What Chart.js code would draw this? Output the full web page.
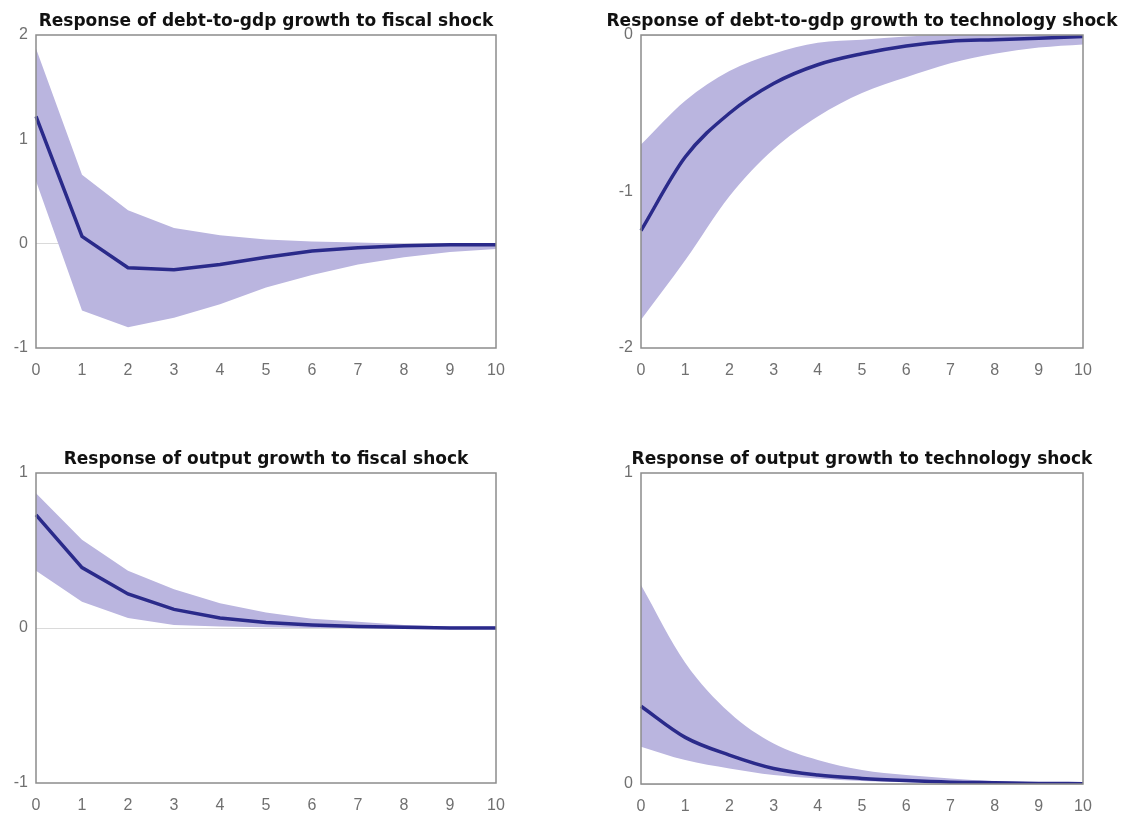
<!DOCTYPE html>
<html>
<head>
<meta charset="utf-8">
<script src="https://cdn.jsdelivr.net/npm/chart.js@4/dist/chart.umd.min.js"></script>
<style>
  body { margin: 0; background: #fff; width: 1142px; height: 821px; position: relative; overflow: hidden; }
  .panel { position: absolute; }
</style>
</head>
<body>
<div class="panel" style="left:0px;top:0px;width:532px;height:385px"><canvas id="c1"></canvas></div>
<div class="panel" style="left:605px;top:0px;width:514px;height:385px"><canvas id="c2"></canvas></div>
<div class="panel" style="left:0px;top:438px;width:532px;height:382px"><canvas id="c3"></canvas></div>
<div class="panel" style="left:605px;top:438px;width:514px;height:383px"><canvas id="c4"></canvas></div>
<script>
const periods = [0, 1, 2, 3, 4, 5, 6, 7, 8, 9, 10];

// debt-to-gdp growth, fiscal shock
const debtFiscalMedian = [1.22, 0.07, -0.23, -0.25, -0.2, -0.13, -0.07, -0.04, -0.02, -0.01, -0.01];
const debtFiscalUpper = [1.87, 0.66, 0.32, 0.15, 0.08, 0.04, 0.02, 0.01, 0.0, 0.0, 0.0];
const debtFiscalLower = [0.6, -0.64, -0.8, -0.71, -0.58, -0.42, -0.3, -0.2, -0.13, -0.08, -0.05];

// debt-to-gdp growth, technology shock
const debtTechMedian = [-1.25, -0.78, -0.5, -0.31, -0.19, -0.12, -0.07, -0.04, -0.03, -0.02, -0.01];
const debtTechUpper = [-0.7, -0.42, -0.23, -0.12, -0.05, -0.03, -0.01, 0.0, 0.0, 0.0, 0.0];
const debtTechLower = [-1.82, -1.44, -1.03, -0.73, -0.52, -0.37, -0.27, -0.18, -0.12, -0.08, -0.06];

// output growth, fiscal shock
const outFiscalMedian = [0.73, 0.39, 0.22, 0.12, 0.064, 0.036, 0.02, 0.01, 0.005, 0.0, 0.0];
const outFiscalUpper = [0.87, 0.57, 0.37, 0.25, 0.16, 0.1, 0.06, 0.04, 0.02, 0.01, 0.01];
const outFiscalLower = [0.37, 0.17, 0.065, 0.02, 0.01, 0.005, 0.0, 0.0, 0.0, 0.0, 0.0];

// output growth, technology shock
const outTechMedian = [0.25, 0.15, 0.093, 0.05, 0.029, 0.018, 0.011, 0.006, 0.004, 0.002, 0.001];
const outTechUpper = [0.64, 0.39, 0.23, 0.13, 0.077, 0.045, 0.029, 0.018, 0.01, 0.006, 0.004];
const outTechLower = [0.12, 0.077, 0.05, 0.029, 0.018, 0.01, 0.006, 0.003, 0.002, 0.001, 0.0];

const BAND = '#bab5df';
const LINE = '#2a2a8a';
const AXIS = '#8c8c8c';
const TICK = '#707070';
const TICK_FONT = { family: 'Arial, "Liberation Sans", sans-serif', size: 16 };

// grey frame round the plot area
const frame = {
  id: 'frame',
  afterDatasetsDraw(chart) {
    const a = chart.chartArea;
    const ctx = chart.ctx;
    ctx.save();
    ctx.strokeStyle = AXIS;
    ctx.lineWidth = 1.5;
    ctx.strokeRect(a.left, a.top, a.right - a.left, a.bottom - a.top);
    ctx.restore();
  }
};

function makeChart(id, title, median, upper, lower, yMin, yMax, smooth) {
  const mode = smooth ? 'monotone' : 'default';
  new Chart(document.getElementById(id), {
    type: 'line',
    data: {
      labels: periods,
      datasets: [
        { data: upper, borderWidth: 0, pointRadius: 0, backgroundColor: BAND, fill: '+1', order: 2, cubicInterpolationMode: mode },
        { data: lower, borderWidth: 0, pointRadius: 0, backgroundColor: BAND, fill: false, order: 2, cubicInterpolationMode: mode },
        { data: median, borderColor: LINE, borderWidth: 3.5, pointRadius: 0, fill: false, order: 1, cubicInterpolationMode: mode },
      ],
    },
    options: {
      responsive: true,
      maintainAspectRatio: false,
      animation: false,
      layout: { padding: 0 },
      plugins: {
        legend: { display: false },
        tooltip: { enabled: false },
        title: {
          display: true,
          text: title,
          color: '#111',
          font: { family: '"DejaVu Sans", sans-serif', size: 17, weight: 'bold' },
          padding: { top: 11, bottom: 3.6 },
        },
      },
      scales: {
        x: {
          grid: { display: false, drawTicks: false },
          border: { display: false },
          ticks: { color: TICK, padding: 13, maxRotation: 0, font: TICK_FONT },
          afterFit: (s) => { s.height = 37; },
        },
        y: {
          min: yMin,
          max: yMax,
          grid: {
            drawTicks: false,
            color: (c) => (c.tick && c.tick.value === 0 ? '#dadada' : 'rgba(0,0,0,0)'),
          },
          border: { display: false },
          ticks: { stepSize: 1, color: TICK, padding: 8, font: TICK_FONT },
          afterFit: (s) => { s.width = 36; },
        },
        yRight: {
          position: 'right',
          display: true,
          grid: { display: false },
          border: { display: false },
          ticks: { display: false },
          afterFit: (s) => { s.width = 36; },
        },
      },
    },
    plugins: [frame],
  });
}

makeChart('c1', 'Response of debt-to-gdp growth to fiscal shock', debtFiscalMedian, debtFiscalUpper, debtFiscalLower, -1, 2, false);
makeChart('c2', 'Response of debt-to-gdp growth to technology shock', debtTechMedian, debtTechUpper, debtTechLower, -2, 0, true);
makeChart('c3', 'Response of output growth to fiscal shock', outFiscalMedian, outFiscalUpper, outFiscalLower, -1, 1, false);
makeChart('c4', 'Response of output growth to technology shock', outTechMedian, outTechUpper, outTechLower, 0, 1, true);
</script>
</body>
</html>
